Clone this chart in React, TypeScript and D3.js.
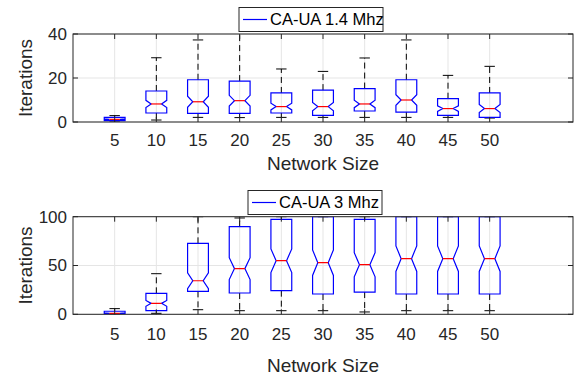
import React from 'react';
import * as d3 from 'd3';

const sizes = [5, 10, 15, 20, 25, 30, 35, 40, 45, 50];

// CA-UA 1.4 Mhz
const low14 = [0, 0.9, 2.1, 2.0, 2.1, 2.1, 2.1, 2.1, 2.1, 1.8];
const q1_14 = [0.6, 4.1, 3.9, 3.9, 4.1, 3.0, 5.0, 4.5, 3.0, 2.1];
const med14 = [1.2, 8.2, 9.2, 9.7, 7.0, 7.0, 8.2, 10.0, 6.1, 6.1];
const q3_14 = [2.1, 14.1, 19.2, 18.6, 13.2, 14.5, 15.2, 19.2, 10.6, 13.2];
const high14 = [2.9, 29.2, 37.3, 46, 24.1, 23.0, 29.1, 37.3, 21.2, 25.3];

// CA-UA 3 Mhz
const low3 = [0, 1.0, 4.7, 3.7, 3.7, 3.7, 2.4, 3.7, 3.7, 3.7];
const q1_3 = [0.3, 3.7, 23.5, 21.8, 24.2, 20.8, 22.8, 20.8, 20.8, 20.8];
const med3 = [1.0, 11.2, 34.4, 46.8, 54.9, 52.9, 50.8, 57.0, 57.0, 57.0];
const q3_3 = [3.1, 21.5, 72.7, 89.8, 97.3, 100, 97.3, 100, 100, 100];
const high3 = [5.8, 41.6, 100, 98.7, 100, 100, 100, 100, 100, 100];

const yTicks14 = [0, 20, 40];
const yTicks3 = [0, 50, 100];

const sampleSize = 90; // notch = median +- 1.57*IQR/sqrt(n)

const font = "'Liberation Sans', Arial, Helvetica, sans-serif";
const ink = '#262626';

type PanelProps = {
  id: string;
  top: number;
  bottom: number;
  yMax: number;
  yTicks: number[];
  low: number[];
  q1: number[];
  med: number[];
  q3: number[];
  high: number[];
  legend: string;
  legendX: number;
  legendY: number;
  legendW: number;
  tickY: number;
  labelY: number;
};

const Panel = (p: PanelProps) => {
  const x = d3.scaleLinear().domain([0, 12]).range([73, 573]);
  const y = d3.scaleLinear().domain([0, p.yMax]).range([p.bottom, p.top]);
  const half = x(0.25) - x(0);
  const cap = half / 2;
  const tickLen = 5;
  const clip = `clip-${p.id}`;

  const boxes = sizes.map((s, i) => {
    const cx = x(i + 1);
    const iqr = p.q3[i] - p.q1[i];
    const n = (1.57 * iqr) / Math.sqrt(sampleSize);
    const path = d3.path();
    path.moveTo(cx - half, y(p.q1[i]));
    path.lineTo(cx - half, y(p.med[i] - n));
    path.lineTo(cx - half / 2, y(p.med[i]));
    path.lineTo(cx - half, y(p.med[i] + n));
    path.lineTo(cx - half, y(p.q3[i]));
    path.lineTo(cx + half, y(p.q3[i]));
    path.lineTo(cx + half, y(p.med[i] + n));
    path.lineTo(cx + half / 2, y(p.med[i]));
    path.lineTo(cx + half, y(p.med[i] - n));
    path.lineTo(cx + half, y(p.q1[i]));
    path.closePath();
    return { s, i, cx, d: path.toString() };
  });

  const midY = (p.top + p.bottom) / 2;

  return (
    <g>
      <defs>
        <clipPath id={clip}>
          <rect x={x(0)} y={p.top} width={x(12) - x(0)} height={p.bottom - p.top} />
        </clipPath>
      </defs>
      <rect x={x(0)} y={p.top} width={x(12) - x(0)} height={p.bottom - p.top} fill="#fff" />
      {/* grid */}
      {sizes.map((s, i) => (
        <line key={'gx' + s} x1={x(i + 1)} x2={x(i + 1)} y1={p.top} y2={p.bottom} stroke="#e5e5e5" strokeWidth={1} />
      ))}
      {p.yTicks.map((t) => (
        <line key={'gy' + t} x1={x(0)} x2={x(12)} y1={y(t)} y2={y(t)} stroke="#e5e5e5" strokeWidth={1} />
      ))}
      {/* boxes */}
      <g clipPath={`url(#${clip})`}>
        {boxes.map((b) => (
          <g key={b.s}>
            <line x1={b.cx} x2={b.cx} y1={y(p.q3[b.i])} y2={y(p.high[b.i])} stroke="#000" strokeWidth={1} strokeDasharray="6,4" />
            <line x1={b.cx} x2={b.cx} y1={y(p.q1[b.i])} y2={y(p.low[b.i])} stroke="#000" strokeWidth={1} strokeDasharray="6,4" />
            <line x1={b.cx - cap} x2={b.cx + cap} y1={y(p.high[b.i])} y2={y(p.high[b.i])} stroke="#000" strokeWidth={1} />
            <line x1={b.cx - cap} x2={b.cx + cap} y1={y(p.low[b.i])} y2={y(p.low[b.i])} stroke="#000" strokeWidth={1} />
            <path d={b.d} fill="none" stroke="#0000ff" strokeWidth={1.2} />
            <line x1={b.cx - half / 2} x2={b.cx + half / 2} y1={y(p.med[b.i])} y2={y(p.med[b.i])} stroke="#ff0000" strokeWidth={1.2} />
          </g>
        ))}
      </g>
      {/* axes frame and ticks */}
      <rect x={x(0)} y={p.top} width={x(12) - x(0)} height={p.bottom - p.top} fill="none" stroke={ink} strokeWidth={1} />
      {sizes.map((s, i) => (
        <g key={'tx' + s}>
          <line x1={x(i + 1)} x2={x(i + 1)} y1={p.bottom} y2={p.bottom - tickLen} stroke={ink} />
          <line x1={x(i + 1)} x2={x(i + 1)} y1={p.top} y2={p.top + tickLen} stroke={ink} />
          <text x={x(i + 1)} y={p.tickY} textAnchor="middle" fontSize={17} fill={ink} fontFamily={font}>
            {s}
          </text>
        </g>
      ))}
      {p.yTicks.map((t) => (
        <g key={'ty' + t}>
          <line x1={x(0)} x2={x(0) + tickLen} y1={y(t)} y2={y(t)} stroke={ink} />
          <line x1={x(12)} x2={x(12) - tickLen} y1={y(t)} y2={y(t)} stroke={ink} />
          <text x={67} y={y(t)} dy="0.35em" textAnchor="end" fontSize={17} fill={ink} fontFamily={font}>
            {t}
          </text>
        </g>
      ))}
      <text x={(x(0) + x(12)) / 2} y={p.labelY} textAnchor="middle" fontSize={19} fill={ink} fontFamily={font}>
        Network Size
      </text>
      <text transform={`translate(32, ${midY}) rotate(-90)`} textAnchor="middle" fontSize={19} fill={ink} fontFamily={font}>
        Iterations
      </text>
      {/* legend */}
      <g>
        <rect x={p.legendX} y={p.legendY} width={p.legendW} height={24} fill="#fff" stroke={ink} strokeWidth={1} />
        <line x1={p.legendX + 4} x2={p.legendX + 28} y1={p.legendY + 12} y2={p.legendY + 12} stroke="#0000ff" strokeWidth={1.2} />
        <text x={p.legendX + 31} y={p.legendY + 12} dy="0.35em" fontSize={16.5} fill="#000" fontFamily={font}>
          {p.legend}
        </text>
      </g>
    </g>
  );
};

const App = () => {
  return (
    <svg width={576} height={376} style={{ position: 'absolute', left: 0, top: 0, background: '#fff' }}>
      <rect width={576} height={376} fill="#fff" />
      <Panel
        id="a"
        top={34}
        bottom={122}
        yMax={40}
        yTicks={yTicks14}
        low={low14}
        q1={q1_14}
        med={med14}
        q3={q3_14}
        high={high14}
        legend="CA-UA 1.4 Mhz"
        legendX={239}
        legendY={7.5}
        legendW={144}
        tickY={146}
        labelY={170}
      />
      <Panel
        id="b"
        top={216.7}
        bottom={314.3}
        yMax={100}
        yTicks={yTicks3}
        low={low3}
        q1={q1_3}
        med={med3}
        q3={q3_3}
        high={high3}
        legend="CA-UA 3 Mhz"
        legendX={248}
        legendY={190.5}
        legendW={134}
        tickY={340}
        labelY={372}
      />
    </svg>
  );
};

export default App;
